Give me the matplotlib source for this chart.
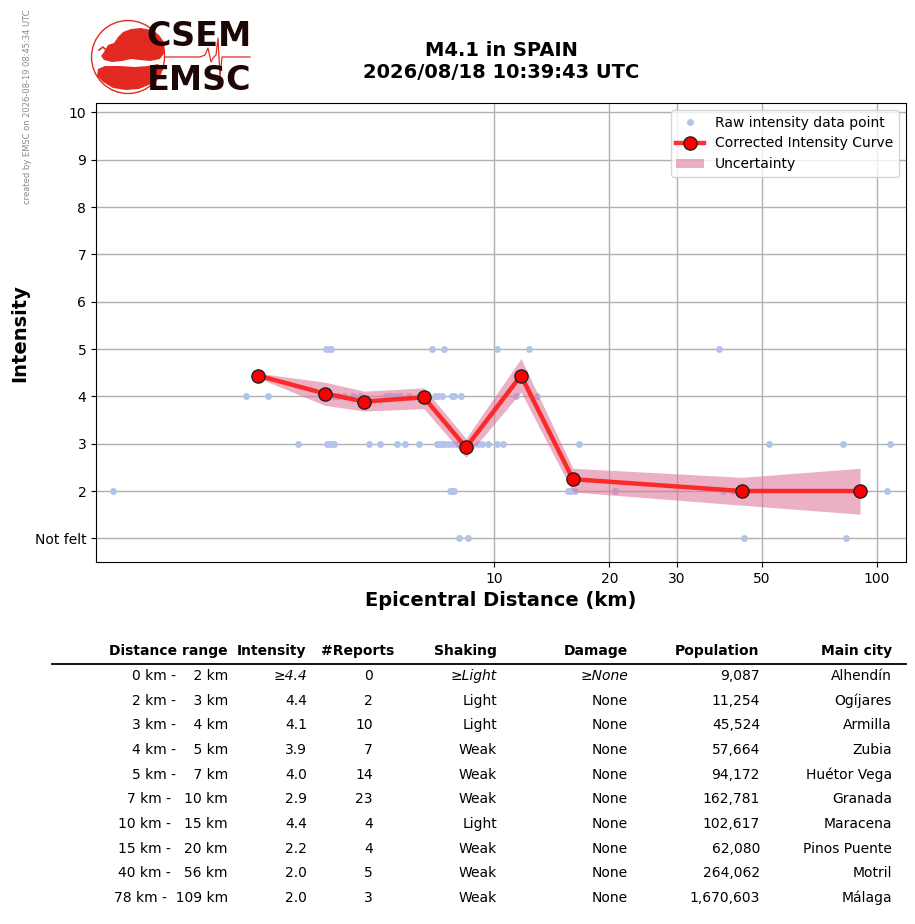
import matplotlib
matplotlib.use("Agg")
import matplotlib.pyplot as plt
import numpy as np
from matplotlib.patches import Circle, Polygon, Patch
from matplotlib.lines import Line2D

# ---------------- data ----------------
raw_i5 = [3.64, 3.70, 3.75, 6.90, 7.41, 10.20, 12.37, 38.69]
raw_i4 = [2.25, 2.57, 3.62, 3.82, 3.92, 4.06, 4.28, 4.47, 5.22, 5.35, 5.51,
          5.68, 5.99, 6.57, 7.02, 7.14, 7.30, 7.78, 7.86, 8.19, 11.40, 12.93]
raw_i3 = [3.08, 3.66, 3.71, 3.75, 3.82, 4.73, 5.04, 5.59, 5.87, 6.38, 7.09,
          7.19, 7.30, 7.45, 7.63, 7.82, 7.99, 8.49, 9.08, 9.29, 9.66, 10.20,
          10.57, 16.70, 52.33, 81.7, 108.3]
raw_i2 = [1.01, 7.68, 7.78, 7.86, 15.63, 15.86, 16.31, 20.74, 39.7, 42.15,
          44.4, 106.4]
raw_i1 = [8.12, 8.57, 45.03, 83.2]

curve_dist = [2.42, 3.62, 4.58, 6.56, 8.45, 11.76, 16.07, 44.4, 90.3]
curve_int = [4.44, 4.06, 3.89, 3.98, 2.92, 4.44, 2.25, 2.00, 2.00]
curve_lo = [4.39, 3.81, 3.69, 3.74, 2.71, 4.09, 1.98, 1.70, 1.51]
curve_hi = [4.49, 4.30, 4.11, 4.18, 3.11, 4.80, 2.48, 2.29, 2.48]

x_ticks = [10, 20, 30, 50, 100]
x_ticklabels = ["10", "20", "30", "50", "100"]
y_ticks = [1, 2, 3, 4, 5, 6, 7, 8, 9, 10]
y_ticklabels = ["Not felt", "2", "3", "4", "5", "6", "7", "8", "9", "10"]

tbl_range = ["0 km -    2 km", "2 km -    3 km", "3 km -    4 km",
             "4 km -    5 km", "5 km -    7 km", "7 km -   10 km",
             "10 km -   15 km", "15 km -   20 km", "40 km -   56 km",
             "78 km -  109 km"]
tbl_int = ["≥4.4", "4.4", "4.1", "3.9", "4.0", "2.9", "4.4", "2.2", "2.0", "2.0"]
tbl_reports = ["0", "2", "10", "7", "14", "23", "4", "4", "5", "3"]
tbl_shaking = ["≥Light", "Light", "Light", "Weak", "Weak", "Weak", "Light",
               "Weak", "Weak", "Weak"]
tbl_damage = ["≥None", "None", "None", "None", "None", "None", "None", "None",
              "None", "None"]
tbl_pop = ["9,087", "11,254", "45,524", "57,664", "94,172", "162,781",
           "102,617", "62,080", "264,062", "1,670,603"]
tbl_city = ["Alhendín", "Ogíjares", "Armilla", "Zubia", "Huétor Vega",
            "Granada", "Maracena", "Pinos Puente", "Motril", "Málaga"]
tbl_headers = ["Distance range", "Intensity", "#Reports", "Shaking", "Damage",
               "Population", "Main city"]

# ---------------- figure ----------------
W, H = 915, 924
fig = plt.figure(figsize=(W / 100, H / 100), dpi=100)


def fx(x):
    return x / W


def fy(y):
    return 1 - y / H


ax = fig.add_axes([fx(96), fy(562), (906 - 96) / W, (562 - 103) / H])
ax.set_xscale("log")

raw_color = "#b4c3ec"
for val, arr in [(5, raw_i5), (4, raw_i4), (3, raw_i3), (2, raw_i2), (1, raw_i1)]:
    ax.plot(arr, [val] * len(arr), "o", color=raw_color, markersize=5,
            markeredgewidth=0, zorder=2)

band_color = "palevioletred"
ax.fill_between(curve_dist, curve_lo, curve_hi, color=band_color,
                alpha=0.55, linewidth=0, zorder=3)
line_color = (1, 0.1, 0.1, 0.9)
ax.plot(curve_dist, curve_int, "-", color=line_color, linewidth=3.2, zorder=4)
ax.plot(curve_dist, curve_int, "o", markerfacecolor="red",
        markeredgecolor="#222222", markeredgewidth=1.0, markersize=9.5,
        zorder=5)

ax.set_xlim(0.914, 119)
ax.set_ylim(0.5, 10.2)
ax.set_xticks(x_ticks)
ax.set_xticklabels(x_ticklabels)
ax.xaxis.set_minor_locator(matplotlib.ticker.NullLocator())
ax.set_yticks(y_ticks)
ax.set_yticklabels(y_ticklabels)
ax.tick_params(labelsize=10)
ax.grid(True, color="#b0b0b0", linewidth=1.0, zorder=0)
ax.set_axisbelow(True)

h_raw = Line2D([], [], linestyle="none", marker="o", color=raw_color,
               markersize=5, markeredgewidth=0)
h_curve = Line2D([], [], color=line_color, linewidth=3.2, marker="o",
                 markerfacecolor="red", markeredgecolor="#222222",
                 markersize=9.5)
h_unc = Patch(facecolor=band_color, alpha=0.55, linewidth=0)
ax.legend([h_raw, h_curve, h_unc],
          ["Raw intensity data point", "Corrected Intensity Curve", "Uncertainty"],
          loc="upper right", fontsize=10)

# axis labels
fig.text(fx(20), fy(333), "Intensity", rotation=90, fontsize=14,
         fontweight="bold", ha="center", va="center")
fig.text(fx(501), fy(601), "Epicentral Distance (km)", fontsize=14,
         fontweight="bold", ha="center", va="center")

# title
fig.text(fx(501), fy(50), "M4.1 in SPAIN", fontsize=14, fontweight="bold",
         ha="center", va="center")
fig.text(fx(501), fy(72), "2026/08/18 10:39:43 UTC", fontsize=14,
         fontweight="bold", ha="center", va="center")

# watermark
fig.text(fx(28), fy(107), "created by EMSC on 2026-08-19 08:45:34 UTC",
         rotation=90, fontsize=6, color="#888888", ha="center", va="center")

# ---------------- logo ----------------
lx0, ly0, lx1, ly1 = 86, 16, 256, 100
lax = fig.add_axes([fx(lx0), fy(ly1), (lx1 - lx0) / W, (ly1 - ly0) / H])
lax.set_xlim(lx0, lx1)
lax.set_ylim(ly1, ly0)
lax.axis("off")
red = "#e32a22"
lax.add_patch(Circle((128, 57), 36.5, fill=False, edgecolor=red, linewidth=1.0))
eurasia = [(104, 52), (108, 45), (114, 43), (118, 37), (123, 32), (131, 29),
           (141, 28), (151, 30), (159, 35), (164, 42), (165, 52), (160, 59),
           (150, 61), (140, 60), (131, 59), (122, 61), (112, 62), (104, 60),
           (101, 56)]
africa = [(98, 69), (105, 66), (120, 66), (135, 67), (148, 66), (158, 64),
          (163, 69), (159, 77), (151, 84), (139, 89), (126, 90), (113, 88),
          (103, 82), (97, 76)]
lax.add_patch(Polygon(eurasia, closed=True, facecolor=red, edgecolor="none"))
lax.add_patch(Polygon(africa, closed=True, facecolor=red, edgecolor="none"))
lax.plot([99, 103, 106], [50, 47, 50], color=red, lw=1.2)
seis_x = [165, 200, 205, 208, 211, 213, 216, 218, 220, 222, 250]
seis_y = [57, 57, 55, 48, 62, 58, 55, 38, 77, 57, 57]
lax.plot(seis_x, seis_y, color=red, lw=0.9)
lax.text(199, 37, "CSEM", fontsize=24, fontweight="bold", color="#1c0606",
         ha="center", va="center")
lax.text(199, 81, "EMSC", fontsize=24, fontweight="bold", color="#1c0606",
         ha="center", va="center")

# ---------------- table ----------------
hdr_y = 651
row_y0 = 676
row_dy = 24.65
hdr_right = [228, 306, 394, 497, 628, 759, 892]
for txt, xr in zip(tbl_headers, hdr_right):
    fig.text(fx(xr), fy(hdr_y), txt, fontsize=10, fontweight="bold",
             ha="right", va="center")
fig.add_artist(Line2D([fx(52), fx(906)], [fy(664), fy(664)], color="black",
                      linewidth=1.3))

for i in range(len(tbl_range)):
    y = fy(row_y0 + i * row_dy)
    st = "italic" if i == 0 else "normal"
    fig.text(fx(228), y, tbl_range[i], fontsize=10, ha="right", va="center")
    fig.text(fx(307), y, tbl_int[i], fontsize=10, ha="right", va="center",
             style=st)
    fig.text(fx(373), y, tbl_reports[i], fontsize=10, ha="right", va="center")
    fig.text(fx(497), y, tbl_shaking[i], fontsize=10, ha="right", va="center",
             style=st)
    fig.text(fx(628), y, tbl_damage[i], fontsize=10, ha="right", va="center",
             style=st)
    fig.text(fx(760), y, tbl_pop[i], fontsize=10, ha="right", va="center")
    fig.text(fx(892), y, tbl_city[i], fontsize=10, ha="right", va="center")

fig.savefig("out.png", dpi=100)
